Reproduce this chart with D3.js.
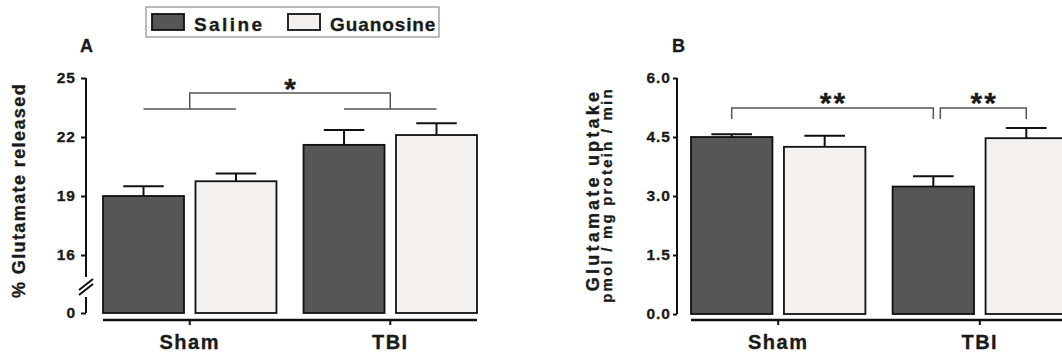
<!DOCTYPE html>
<html>
<head>
<meta charset="utf-8">
<script src="https://cdn.jsdelivr.net/npm/d3@7"></script>
<style>
  body { margin: 0; background: #fff; }
  text { font-family: "Liberation Sans", Arial, sans-serif; font-weight: bold; fill: #1a1a1a; stroke: #1a1a1a; stroke-width: 0.3px; }
</style>
</head>
<body>
<script>
// data
var groups = ["Sham", "TBI"];
var series = ["Saline", "Guanosine"];

var releaseSaline = [19.0, 21.6];
var releaseGuanosine = [19.75, 22.1];
var releaseSalineSem = [0.5, 0.75];
var releaseGuanosineSem = [0.4, 0.6];
var releaseTicks = [0, 16, 19, 22, 25];

var uptakeSaline = [4.5, 3.24];
var uptakeGuanosine = [4.25, 4.47];
var uptakeSalineSem = [0.07, 0.26];
var uptakeGuanosineSem = [0.28, 0.26];
var uptakeTicks = [0, 1.5, 3.0, 4.5, 6.0];

var colors = {Saline: "#565656", Guanosine: "#f4f1ef"};

var svg = d3.select("body").append("svg")
    .attr("width", 1062)
    .attr("height", 358);

// build rows for a panel
function rows(sal, gua, salSem, guaSem) {
    var out = [];
    groups.forEach(function(g, i) {
        out.push({group: g, series: "Saline", value: sal[i], sem: salSem[i]});
        out.push({group: g, series: "Guanosine", value: gua[i], sem: guaSem[i]});
    });
    return out;
}

function drawBars(g, data, x0, x1, y) {
    var bw = x1.bandwidth();
    // error bars (upper only)
    g.selectAll(".err").data(data).enter().append("path")
        .attr("d", function(d) {
            var cx = x0(d.group) + x1(d.series) + bw / 2;
            return "M" + cx + "," + y(d.value) + "V" + y(d.value + d.sem) +
                   "M" + (cx - bw / 4) + "," + y(d.value + d.sem) + "H" + (cx + bw / 4);
        })
        .attr("stroke", "#111").attr("stroke-width", 2).attr("fill", "none");
    g.selectAll(".bar").data(data).enter().append("rect")
        .attr("x", function(d) { return x0(d.group) + x1(d.series); })
        .attr("y", function(d) { return y(d.value); })
        .attr("width", bw)
        .attr("height", function(d) { return y(0) - y(d.value); })
        .attr("fill", function(d) { return colors[d.series]; })
        .attr("stroke", "#111").attr("stroke-width", 1.8);
}

function drawXAxis(g, x0, yPos) {
    var ax = g.append("g")
        .attr("transform", "translate(0," + yPos + ")")
        .call(d3.axisBottom(x0).tickSize(5).tickPadding(9));
    ax.select(".domain").attr("d", "M" + x0.range()[0] + ",0H" + x0.range()[1])
        .attr("stroke", "#111").attr("stroke-width", 2.5);
    ax.selectAll(".tick line").attr("stroke", "#111").attr("stroke-width", 2);
    ax.selectAll(".tick text")
        .style("font-family", "Liberation Sans, Arial, sans-serif")
        .style("font-weight", "bold")
        .style("font-size", "20px")
        .style("letter-spacing", "1.5px")
        .attr("fill", "#1a1a1a")
        .attr("dy", "0.75em");
}

function styleYAxis(ax) {
    ax.selectAll(".tick line").attr("stroke", "#111").attr("stroke-width", 2);
    ax.selectAll(".tick text")
        .style("font-family", "Liberation Sans, Arial, sans-serif")
        .style("font-weight", "bold")
        .style("font-size", "15.5px")
        .style("letter-spacing", "1px")
        .attr("fill", "#1a1a1a");
}

// ---------- Panel A ----------
var gA = svg.append("g");
var yA = d3.scaleLinear().domain([0, 16, 25]).range([313, 255, 78]);
var x0A = d3.scaleBand().domain(groups).range([103, 477]).paddingInner(0.135);
var x1A = d3.scaleBand().domain(series).range([0, x0A.bandwidth()]).paddingInner(0.124);

var axA = gA.append("g").attr("transform", "translate(86,0)")
    .call(d3.axisLeft(yA).tickValues(releaseTicks).tickSize(5).tickPadding(5)
          .tickFormat(d3.format("d")));
axA.select(".domain").remove();
styleYAxis(axA);
// broken axis line
var brk = (yA(0) + yA(16)) / 2;
gA.append("path")
    .attr("d", "M86," + yA(25) + "V" + (brk - 7) + "M86," + (brk + 13) + "V" + yA(0))
    .attr("stroke", "#111").attr("stroke-width", 2).attr("fill", "none");
gA.append("path")
    .attr("d", "M79," + (brk + 6) + "L93," + (brk - 5) + "M79," + (brk + 11) + "L93," + (brk))
    .attr("stroke", "#111").attr("stroke-width", 2).attr("fill", "none");

drawBars(gA, rows(releaseSaline, releaseGuanosine, releaseSalineSem, releaseGuanosineSem), x0A, x1A, yA);
drawXAxis(gA, x0A, 320);

// significance: group main effect
function barCenter(x0, x1, g, s) { return x0(g) + x1(s) + x1.bandwidth() / 2; }
var lowA = yA(23.42), highA = yA(24.24);
groups.forEach(function(g) {
    gA.append("line")
        .attr("x1", barCenter(x0A, x1A, g, "Saline")).attr("x2", barCenter(x0A, x1A, g, "Guanosine"))
        .attr("y1", lowA).attr("y2", lowA)
        .attr("stroke", "#555").attr("stroke-width", 1.5);
});
var cSham = x0A("Sham") + x0A.bandwidth() / 2, cTbi = x0A("TBI") + x0A.bandwidth() / 2;
gA.append("path")
    .attr("d", "M" + cSham + "," + lowA + "V" + highA + "H" + cTbi + "V" + lowA)
    .attr("stroke", "#555").attr("stroke-width", 1.5).attr("fill", "none");
gA.append("text").attr("x", (cSham + cTbi) / 2).attr("y", 98.5)
    .attr("text-anchor", "middle").style("font-size", "30px").text("*");

gA.append("text").attr("x", 80).attr("y", 52).style("font-size", "18px").text("A");
gA.append("text")
    .attr("transform", "translate(25,190.5) rotate(-90)")
    .attr("text-anchor", "middle")
    .style("font-size", "18px").style("letter-spacing", "1.4px")
    .text("% Glutamate released");

// ---------- Panel B ----------
var gB = svg.append("g");
var yB = d3.scaleLinear().domain([0, 6]).range([314, 78]);
var x0B = d3.scaleBand().domain(groups).range([691, 1067]).paddingInner(0.135);
var x1B = d3.scaleBand().domain(series).range([0, x0B.bandwidth()]).paddingInner(0.124);

var axB = gB.append("g").attr("transform", "translate(677,0)")
    .call(d3.axisLeft(yB).tickValues(uptakeTicks).tickSize(4).tickPadding(2)
          .tickFormat(d3.format(".1f")));
axB.select(".domain").attr("d", "M0," + yB(6) + "V" + yB(0))
    .attr("stroke", "#111").attr("stroke-width", 2);
styleYAxis(axB);

drawBars(gB, rows(uptakeSaline, uptakeGuanosine, uptakeSalineSem, uptakeGuanosineSem), x0B, x1B, yB);
drawXAxis(gB, x0B, 320);

var topB = yB(5.24), endB = yB(4.96);
var b1a = barCenter(x0B, x1B, "Sham", "Saline"), b1b = barCenter(x0B, x1B, "TBI", "Saline");
var b2a = b1b + 7, b2b = barCenter(x0B, x1B, "TBI", "Guanosine");
[[b1a, b1b], [b2a, b2b]].forEach(function(b) {
    gB.append("path")
        .attr("d", "M" + b[0] + "," + endB + "V" + topB + "H" + b[1] + "V" + endB)
        .attr("stroke", "#555").attr("stroke-width", 1.5).attr("fill", "none");
    gB.append("text").attr("x", (b[0] + b[1]) / 2 + 1).attr("y", 113)
        .attr("text-anchor", "middle").style("font-size", "30px")
        .style("letter-spacing", "2px").text("**");
});

gB.append("text").attr("x", 672).attr("y", 52).style("font-size", "18px").text("B");
gB.append("text")
    .attr("transform", "translate(599,190) rotate(-90)")
    .attr("text-anchor", "middle")
    .style("font-size", "18px").style("letter-spacing", "3.2px")
    .text("Glutamate uptake");
gB.append("text")
    .attr("transform", "translate(612,195) rotate(-90)")
    .attr("text-anchor", "middle")
    .style("font-size", "15px").style("letter-spacing", "2.2px")
    .text("pmol / mg protein / min");

// ---------- Legend ----------
var leg = svg.append("g");
leg.append("rect").attr("x", 146).attr("y", 7).attr("width", 293).attr("height", 30)
    .attr("fill", "#fff").attr("stroke", "#777").attr("stroke-width", 1);
var legX = [152, 288];
series.forEach(function(s, i) {
    leg.append("rect").attr("x", legX[i]).attr("y", 14).attr("width", 32).attr("height", 16)
        .attr("fill", colors[s]).attr("stroke", "#111").attr("stroke-width", 1.8);
    leg.append("text").attr("x", legX[i] + 42).attr("y", 30.5)
        .style("font-size", "19px").style("letter-spacing", i === 0 ? "2.4px" : "0.9px")
        .text(s);
});
</script>
</body>
</html>
